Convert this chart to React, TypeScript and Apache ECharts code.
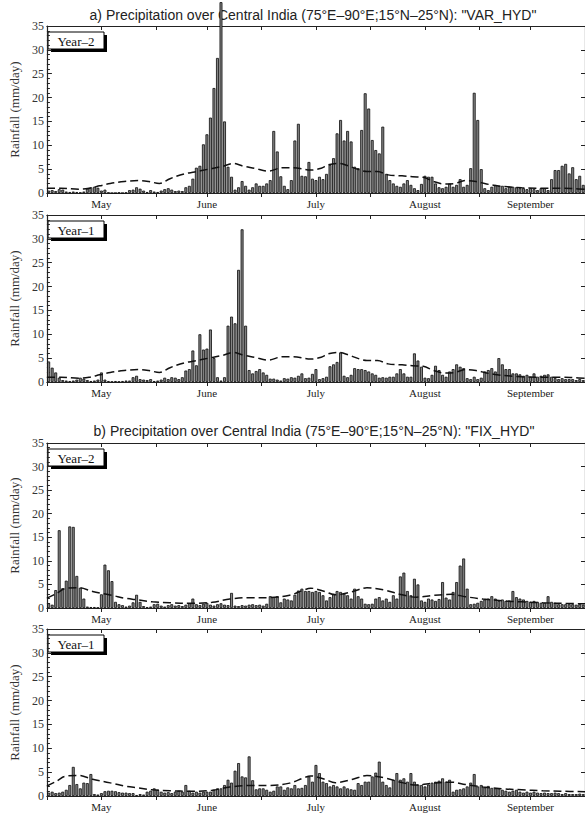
import React, { useEffect, useRef } from "react";
import * as echarts from "echarts";

// ---------- data ----------
const monthTickDays = [0, 15.5, 31, 45.5, 61, 76.5, 92, 107.5, 123, 137.5, 153];
const monthLabelDays = [15.5, 45.5, 76.5, 107.5, 137.5];
const monthNames = ["May", "June", "July", "August", "September"];
const yTicks = [0, 5, 10, 15, 20, 25, 30, 35];

// daily rainfall, 1 May .. 30 Sep (153 days)
const varHydYear2 = [
  0.5, 0.6, 0.4, 0.8, 0.7, 0.3, 0.2, 0.3, 0.2, 0.1,
  0.3, 0.9, 1.2, 1.3, 1.1, 0.5, 0.7, 0.1, 0, 0,
  0.1, 0, 0.1, 0.6, 0.7, 1.2, 0.9, 0.5, 0.2, 0.6,
  0.3, 0.2, 0.5, 0.8, 1.0, 0.7, 0.4, 0.5, 0.4, 1.2,
  1.5, 3.0, 5.3, 5.7, 10.2, 12.3, 15.8, 22, 28.3, 40,
  15, 5.5, 3.4, 0.7, 1.2, 2.5, 1.5, 0.7, 1.2, 2.0,
  1.5, 1.5, 2.0, 2.7, 13.0, 8.7, 3.5, 1.5, 0.8, 2.7,
  11.0, 14.5, 3.6, 3.5, 6.5, 3.0, 2.7, 3.4, 2.9, 4.0,
  5.9, 7.3, 12.5, 15.3, 11, 13, 10.8, 5.5, 5.2, 13.2,
  20.9, 17.7, 11.1, 9, 8.3, 13.9, 4, 2.7, 2, 1.5,
  1.3, 2, 2.7, 1.7, 1, 0.6, 1.9, 3.6, 3.4, 3.4,
  2, 1.2, 1, 1.3, 2, 1.3, 1.7, 2.9, 1.3, 1.7,
  5.2, 21, 15.3, 5, 1, 0.6, 1.3, 1.7, 1.5, 1.5,
  1, 1.3, 1.3, 1.2, 1, 1, 0.8, 1, 0.8, 0.6,
  1, 1, 0.6, 2.9, 4.8, 4.8, 5.7, 6.1, 4.1, 5.4,
  2.9, 3.6, 1.7,
];
const varHydYear1 = [
  4.3, 3.0, 2.0, 0.9, 0.4, 0.3, 0.2, 0.3, 0.5, 0.9,
  0.7, 0.4, 0.2, 0.3, 0.5, 2.0, 0.5, 0.2, 0.1, 0.2,
  0.1, 0.2, 0.3, 0.3, 1.0, 1.3, 0.6, 0.5, 0.4, 0.6,
  0.2, 0.3, 0.5, 0.9, 0.6, 1.0, 0.9, 0.6, 1.0, 2.4,
  2.7, 6.6, 3.5, 10.0, 6.8, 7.0, 11.0, 5.0, 1.0, 0.3,
  1.0, 11.8, 13.7, 12.3, 23.5, 32.0, 11.8, 2.5, 1.8, 2.3,
  2.7, 2.0, 1.5, 0.7, 0.7, 0.5, 0.3, 0.8, 0.7, 1.0,
  0.9, 1.3, 1.8, 0.8, 0.9, 1.7, 2.7, 0.6, 0.8, 1.1,
  3.3, 3.7, 4.2, 6.2, 1.3, 1.0, 1.5, 2.9, 2.7, 2.7,
  2.5, 2.2, 1.8, 1.5, 0.9, 1.0, 0.9, 1.1, 1.1, 1.8,
  2.7, 1.8, 1.1, 1.1, 6.0, 4.5, 3.2, 0.9, 0.8, 1.5,
  3.4, 2.5, 1.5, 1.1, 2.2, 2.7, 3.7, 3.2, 2.9, 0.8,
  0.6, 1.1, 0.6, 0.9, 2.2, 2.5, 2.9, 2.2, 5.0, 3.7,
  2.7, 2.7, 1.8, 1.8, 1.6, 1.3, 1.5, 1.1, 1.8, 1.1,
  1.3, 1.5, 1.6, 1.1, 0.8, 0.6, 0.8, 0.6, 0.6, 0.6,
  0.4, 0.6, 0.4,
];
const fixHydYear2 = [
  1.0, 0.7, 3.8, 16.5, 4.2, 5.8, 17.3, 17.2, 6.8, 4.3,
  2.0, 0.3, 0.2, 0.2, 0.1, 2.9, 9.2, 8.0, 5.7, 1.3,
  0.8, 0.6, 0.3, 0.5, 1.2, 2.8, 1.3, 0.4, 0.2, 0.3,
  0.8, 0.9, 0.5, 0.3, 0.6, 0.8, 0.5, 0.6, 0.4, 0.7,
  1.0, 2.0, 0.8, 0.6, 0.9, 1.1, 0.7, 0.5, 0.8, 1.0,
  0.7, 0.6, 3.2, 0.5, 0.4, 0.6, 0.5, 0.7, 0.8, 0.6,
  0.7, 0.5, 0.9, 2.5, 2.3, 2.5, 1.2, 2.0, 1.8, 1.6,
  2.8, 3.7, 4.1, 3.6, 3.6, 3.4, 3.6, 3.4, 2.7, 1.6,
  2.3, 3.0, 3.6, 3.4, 3.0, 2.7, 2.0, 4.1, 2.5, 2.0,
  0.9, 0.8, 0.9, 2.0, 2.3, 1.6, 2.0, 1.3, 2.7, 2.0,
  6.7, 7.5, 3.6, 2.7, 6.2, 5.0, 1.6, 1.3, 2.0, 1.8,
  1.5, 1.9, 5.5, 2.2, 1.8, 3.4, 5.5, 9.0, 10.5, 4.1,
  0.8, 0.9, 1.1, 1.5, 1.8, 2.0, 2.5, 2.0, 1.5, 1.8,
  1.5, 1.6, 3.6, 2.3, 2.0, 1.8, 1.5, 1.3, 1.5, 1.3,
  1.1, 1.1, 2.5, 1.3, 1.1, 0.8, 0.8, 0.8, 0.8, 0.8,
  0.7, 0.8, 0.7,
];
const fixHydYear1 = [
  0.7, 0.9, 0.6, 0.7, 0.9, 1.3, 2.3, 6.1, 2.5, 1.6,
  2.8, 2.7, 4.6, 0.4, 0.3, 0.6, 1.0, 1.1, 1.1, 1.0,
  0.8, 0.7, 0.7, 0.6, 0.6, 0.2, 0.4, 0.3, 0.9, 1.1,
  1.6, 1.3, 0.9, 0.7, 0.8, 0.6, 0.9, 1.1, 0.9, 2.3,
  1.1, 0.7, 0.9, 0.7, 0.9, 0.9, 0.9, 1.3, 1.6, 1.6,
  2.3, 3.4, 2.8, 5.3, 6.9, 4.1, 3.9, 8.3, 3.3, 1.4,
  1.6, 1.6, 1.3, 0.9, 1.1, 2.0, 2.0, 1.3, 1.8, 1.6,
  2.3, 1.6, 1.7, 2.3, 4.1, 3.0, 6.5, 4.8, 3.0, 2.7,
  2.0, 2.3, 2.0, 1.6, 2.0, 1.6, 1.4, 1.3, 2.7, 2.3,
  3.0, 3.0, 4.1, 4.9, 7.2, 3.0, 2.3, 1.8, 3.4, 4.8,
  3.4, 3.7, 3.0, 4.8, 3.0, 2.4, 2.3, 2.0, 2.4, 2.8,
  3.0, 3.2, 3.7, 3.0, 3.4, 0.9, 1.3, 1.4, 1.6, 2.0,
  2.8, 4.6, 2.0, 2.3, 1.8, 2.1, 1.7, 1.6, 1.6, 1.3,
  1.1, 0.9, 1.1, 1.3, 0.9, 0.7, 0.9, 0.7, 0.9, 0.7,
  0.6, 0.7, 0.6, 0.6, 0.7, 0.6, 0.4, 0.6, 0.4, 0.4,
  0.4, 0.5, 0.4,
];

// climatology (dashed) read at sample days
const climVarDays = [0, 4, 9, 12, 15, 18, 22, 26, 29, 32, 35, 39, 42, 46, 50, 53, 56, 59, 63, 67, 70, 75, 78, 80, 83, 86, 89, 91, 94, 97, 101, 104, 107, 110, 113, 116, 119, 122, 125, 128, 131, 135, 139, 142, 146, 150, 153];
const climVarVals = [1.0, 1.0, 0.8, 1.0, 1.5, 2.0, 2.4, 2.6, 2.4, 2.0, 3.0, 4.0, 4.4, 5.0, 5.6, 6.2, 5.6, 5.2, 4.6, 5.3, 5.3, 4.8, 5.2, 5.9, 6.2, 5.6, 4.8, 4.5, 4.5, 3.8, 3.6, 3.4, 3.3, 2.4, 1.9, 2.0, 2.6, 2.4, 1.9, 1.5, 1.3, 1.1, 1.0, 1.0, 1.0, 0.9, 0.8];
const climFixDays = [0, 3, 5, 9, 13, 17, 19, 22, 26, 30, 35, 41, 47, 52, 58, 63, 69, 73, 75, 79, 82, 87, 91, 96, 101, 105, 110, 115, 119, 124, 130, 135, 141, 146, 153];
const climFixVals = [2.1, 3.2, 4.1, 4.3, 3.5, 2.9, 2.6, 2.1, 1.7, 1.3, 1.1, 1.0, 1.2, 1.9, 2.2, 2.2, 2.7, 3.8, 4.2, 3.5, 2.8, 3.5, 4.3, 3.8, 2.8, 2.3, 2.7, 2.9, 2.4, 1.9, 1.5, 1.3, 1.1, 1.0, 0.9];

const panelLabels = ["Year\u20132", "Year\u20131", "Year\u20132", "Year\u20131"];
const titles = [
  'a) Precipitation over Central India (75\u00b0E\u201390\u00b0E;15\u00b0N\u201325\u00b0N): "VAR_HYD"',
  'b) Precipitation over Central India (75\u00b0E\u201390\u00b0E;15\u00b0N\u201325\u00b0N): "FIX_HYD"',
];

// ---------- layout ----------
const panels = [
  { top: 26, height: 167, bars: varHydYear2, clim: [climVarDays, climVarVals] },
  { top: 215, height: 167, bars: varHydYear1, clim: [climVarDays, climVarVals] },
  { top: 443, height: 165, bars: fixHydYear2, clim: [climFixDays, climFixVals] },
  { top: 629, height: 167, bars: fixHydYear1, clim: [climFixDays, climFixVals] },
];
const LEFT = 39;
const WIDTH = 547;
const SERIF = "'Liberation Serif', 'DejaVu Serif', serif";
const SANS = "'Liberation Sans', Arial, sans-serif";
const AXIS = "#222";

export default function App() {
  const ref = useRef<HTMLDivElement>(null);
  useEffect(() => {
    if (!ref.current) return;
    const chart = echarts.init(ref.current, undefined, { renderer: "svg" });
    const grid = panels.map((p) => ({ left: LEFT, width: WIDTH, top: p.top, height: p.height }));
    const xAxis: any[] = [];
    const yAxis: any[] = [];
    panels.forEach((p, k) => {
      xAxis.push({
        gridIndex: k, type: "value", min: 0, max: 153, position: "bottom",
        axisLine: { show: true, onZero: false, lineStyle: { color: AXIS, width: 1.2 } },
        axisTick: { show: true, customValues: monthTickDays, length: 4, inside: false, lineStyle: { color: AXIS } },
        axisLabel: {
          show: true, customValues: monthLabelDays, margin: 5,
          fontFamily: SERIF, fontSize: 11, color: "#222",
          formatter: (v: number) => {
            const idx = monthLabelDays.findIndex((d) => Math.abs(d - v) < 0.01);
            return idx >= 0 ? monthNames[idx] : "";
          },
        },
        splitLine: { show: false },
      });
    });
    panels.forEach((p, k) => {
      xAxis.push({
        gridIndex: k, type: "value", min: 0, max: 153, position: "top",
        axisLine: { show: true, onZero: false, lineStyle: { color: AXIS, width: 1.2 } },
        axisTick: { show: true, customValues: monthTickDays, length: 4, inside: true, lineStyle: { color: AXIS } },
        axisLabel: { show: false },
        splitLine: { show: false },
      });
    });
    panels.forEach((p, k) => {
      yAxis.push({
        gridIndex: k, type: "value", min: 0, max: 35, interval: 5, position: "left",
        name: "Rainfall (mm/day)", nameLocation: "middle", nameGap: 21, nameRotate: 90,
        nameTextStyle: { fontFamily: SERIF, fontSize: 13, color: "#333" },
        axisLine: { show: true, onZero: false, lineStyle: { color: AXIS, width: 1.2 } },
        axisTick: { show: true, inside: true, length: 5, lineStyle: { color: AXIS } },
        minorTick: { show: true, splitNumber: 5, length: 3, lineStyle: { color: AXIS } },
        axisLabel: {
          margin: 3, fontFamily: SERIF, fontSize: 12, color: "#333",
          formatter: (v: number) => (yTicks.indexOf(v) >= 0 ? String(v) : ""),
        },
        splitLine: { show: false },
      });
    });
    panels.forEach((p, k) => {
      yAxis.push({
        gridIndex: k, type: "value", min: 0, max: 35, interval: 5, position: "right",
        axisLine: { show: true, onZero: false, lineStyle: { color: AXIS, width: 1.2 } },
        axisTick: { show: true, inside: true, length: 4, lineStyle: { color: AXIS } },
        axisLabel: { show: false },
        splitLine: { show: false },
      });
    });
    const series: any[] = [];
    panels.forEach((p, k) => {
      series.push({
        type: "bar", xAxisIndex: k, yAxisIndex: k, clip: false,
        data: p.bars.map((v, i) => [i + 0.5, v]),
        barWidth: 2.9,
        itemStyle: { color: "#858585", borderColor: "#0a0a0a", borderWidth: 0.8 },
        z: 2,
      });
      series.push({
        type: "line", xAxisIndex: k, yAxisIndex: k,
        data: p.clim[0].map((d, j) => [d, p.clim[1][j]]),
        symbol: "none", smooth: 0.35,
        lineStyle: { color: "#111", width: 1.5, type: [8, 4] },
        z: 5,
      });
    });
    const graphic: any[] = [];
    graphic.push({ type: "text", x: 313, y: 15, style: { text: titles[0], font: `14px ${SANS}`, fill: "#222", align: "center", verticalAlign: "middle" }, z: 1 });
    graphic.push({ type: "text", x: 314, y: 431, style: { text: titles[1], font: `14px ${SANS}`, fill: "#222", align: "center", verticalAlign: "middle" }, z: 1 });
    panels.forEach((p, k) => {
      const y0 = p.top + 6;
      graphic.push({
        type: "group", x: 48, y: y0, z: 10,
        children: [
          { type: "rect", shape: { x: 3, y: 3, width: 56, height: 17 }, style: { fill: "#000" } },
          { type: "rect", shape: { x: 0, y: 0, width: 56, height: 17 }, style: { fill: "#fff", stroke: "#000", lineWidth: 1 } },
          { type: "text", x: 28, y: 9, style: { text: panelLabels[k], font: `13px ${SERIF}`, fill: "#111", align: "center", verticalAlign: "middle" } },
        ],
      });
    });
    chart.setOption({
      animation: false,
      backgroundColor: "#fff",
      grid, xAxis, yAxis, series, graphic,
    });
    return () => chart.dispose();
  }, []);
  return <div ref={ref} style={{ position: "fixed", left: 0, top: 0, width: 585, height: 813 }} />;
}
